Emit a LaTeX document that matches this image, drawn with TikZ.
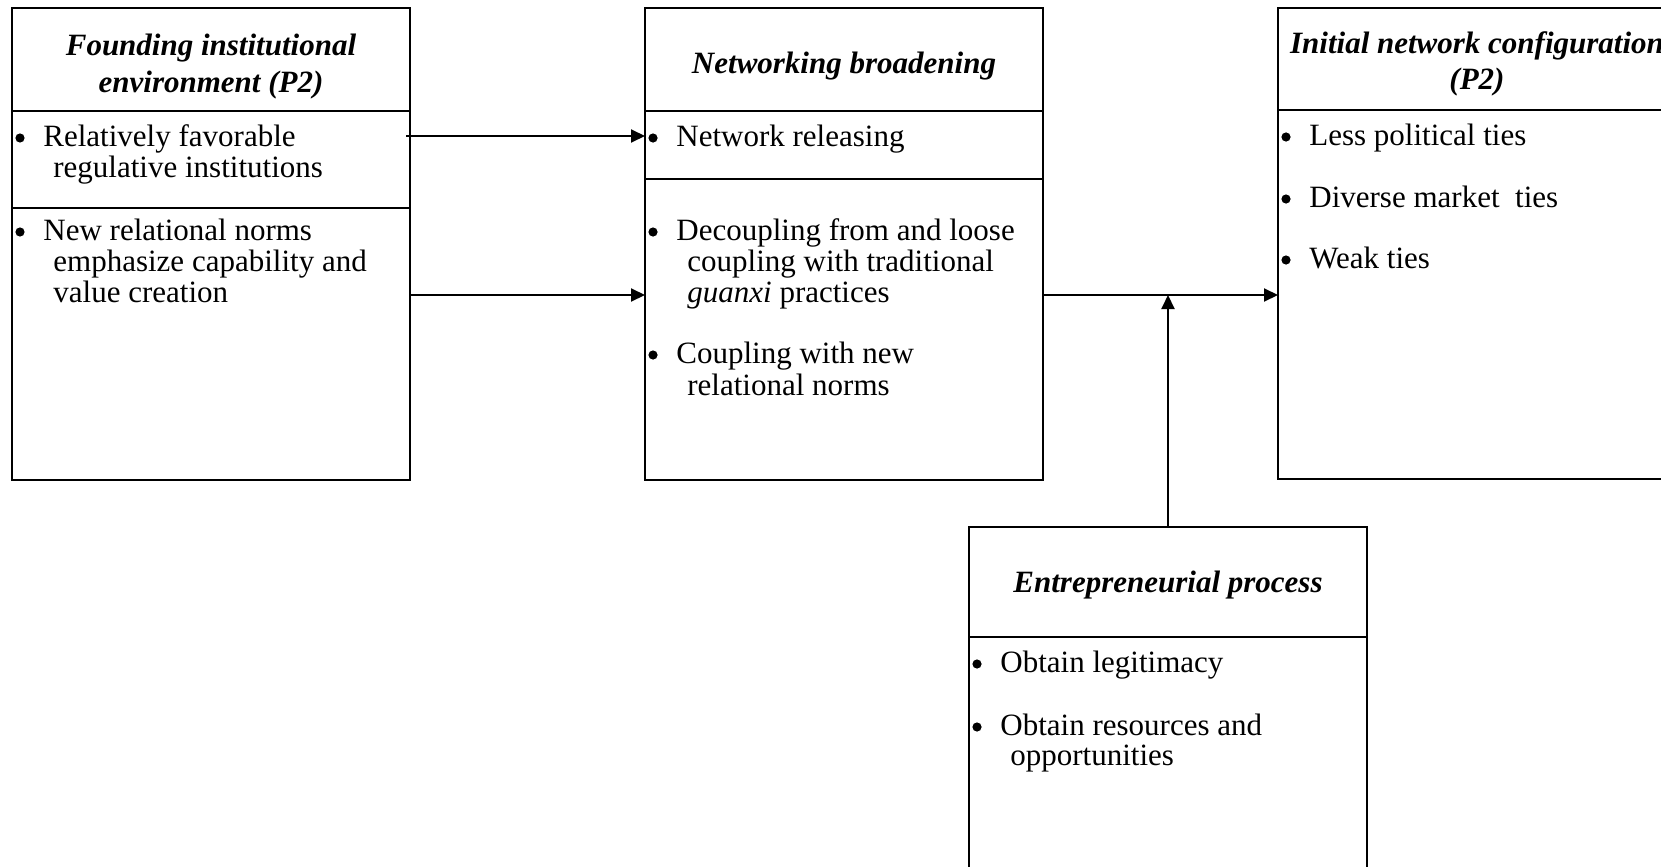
\documentclass[tikz,border=0pt]{standalone}
\usepackage{fontspec}
\setmainfont{Liberation Serif}
\usetikzlibrary{arrows.meta}
\begin{document}
\begin{tikzpicture}[x=0.5pt,y=-0.5pt,
  box/.style={draw,line width=1pt,rectangle,inner sep=0pt,outer sep=0pt,anchor=north west,minimum width=199pt},
  div/.style={line width=1pt},
  arr/.style={line width=1pt,-{Triangle[length=7pt,width=6.5pt]}},
  txt/.style={anchor=base west,inner sep=0pt,font=\fontsize{15.5}{15}\selectfont},
  dot/.style={circle,fill,inner sep=0pt,minimum size=4.6pt},
  ttl/.style={anchor=base,inner sep=0pt,font=\fontsize{15.5}{15}\selectfont\bfseries\itshape}]
\useasboundingbox (0,0) rectangle (1661,867);
\clip (0,0) rectangle (1661,867);
% boxes
\node[box,minimum height=236pt] (b1) at (12,8) {};
\node[box,minimum height=236pt] (b2) at (645,8) {};
\node[box,minimum height=235.5pt] (b3) at (1278,8) {};
\node[box,minimum height=190pt] (b4) at (969,527) {};
% divider levels
\coordinate (h1) at (0,111);
\coordinate (h2) at (0,208);
\coordinate (h3) at (0,179);
\coordinate (h4) at (0,110);
\coordinate (h5) at (0,637);
\coordinate (y1) at (0,136);
\coordinate (y2) at (0,295);
\draw[div] (b1.west |- h1) -- (b1.east |- h1);
\draw[div] (b1.west |- h2) -- (b1.east |- h2);
\draw[div] (b2.west |- h1) -- (b2.east |- h1);
\draw[div] (b2.west |- h3) -- (b2.east |- h3);
\draw[div] (b3.west |- h4) -- (b3.east |- h4);
\draw[div] (b4.west |- h5) -- (b4.east |- h5);
% titles
\node[ttl] (t1a) at (211,55) {Founding institutional};
\node[ttl] (t1b) at (211,92) {environment (P2)};
\node[ttl] (t2) at (844,73) {Networking broadening};
\node[ttl] (t3a) at (1477,54) {Initial network configuration};
\node[ttl] (t3b) at (1477,90) {(P2)};
\node[ttl] (t4) at (1168,592) {Entrepreneurial process};
% box 1 items
\node[dot] (p1) at (20,138) {};
\node[txt] (l1a) at (43,146) {Relatively favorable};
\node[txt] (l1b) at (53,177) {regulative institutions};
\node[dot] (p2) at (20,232) {};
\node[txt] (l2a) at (43,240) {New relational norms};
\node[txt] (l2b) at (53,271) {emphasize capability and};
\node[txt] (l2c) at (53,302) {value creation};
% box 2 items
\node[dot] (p3) at (653,138) {};
\node[txt] (l3a) at (676,146) {Network releasing};
\node[dot] (p4) at (653,232) {};
\node[txt] (l4a) at (676,240) {Decoupling from and loose};
\node[txt] (l4b) at (687,271) {coupling with traditional};
\node[txt] (l4c) at (687,302) {\textit{guanxi} practices};
\node[dot] (p5) at (653,355) {};
\node[txt] (l5a) at (676,363) {Coupling with new};
\node[txt] (l5b) at (687,395) {relational norms};
% box 3 items
\node[dot] (p6) at (1286,137) {};
\node[txt] (l6) at (1309,145) {Less political ties};
\node[dot] (p7) at (1286,199) {};
\node[txt] (l7) at (1309,207) {Diverse market\ \ ties};
\node[dot] (p8) at (1286,260) {};
\node[txt] (l8) at (1309,268) {Weak ties};
% box 4 items
\node[dot] (p9) at (977,664) {};
\node[txt] (l9) at (1000,672) {Obtain legitimacy};
\node[dot] (p10) at (977,727) {};
\node[txt] (l10a) at (1000,735) {Obtain resources and};
\node[txt] (l10b) at (1010,765) {opportunities};
% connectors
\draw[arr] ([xshift=-2pt]b1.east |- y1) -- (b2.west |- y1);
\draw[arr] (b1.east |- y2) -- (b2.west |- y2);
\draw[arr] (b2.east |- y2) -- (b3.west |- y2);
\draw[arr] (b4.north) -- (b4.north |- y2);
\end{tikzpicture}
\end{document}
